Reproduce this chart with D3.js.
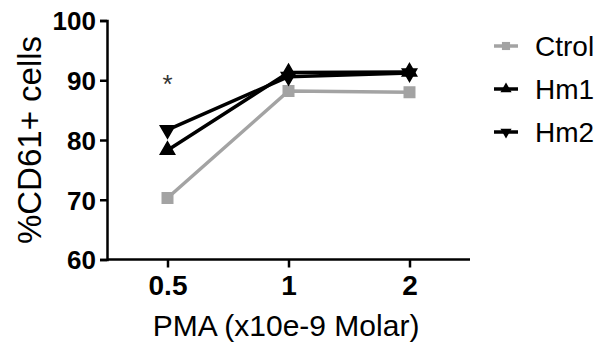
<!DOCTYPE html>
<html>
<head>
<meta charset="utf-8">
<script src="https://cdn.jsdelivr.net/npm/d3@7"></script>
<style>
  body { margin: 0; background: #fff; }
  svg { display: block; font-family: "Liberation Sans", Arial, sans-serif; }
</style>
</head>
<body>
<svg id="chart" width="603" height="349"></svg>
<script>
// values
var doses = ["0.5", "1", "2"];
var ctrol = [70.3, 88.2, 88.0];
var hm1 = [78.3, 91.3, 91.4];
var hm2 = [81.7, 90.6, 91.2];
var yTicks = [60, 70, 80, 90, 100];
var seriesNames = ["Ctrol", "Hm1", "Hm2"];
var starAt = "0.5";

var svg = d3.select("#chart");

var x = d3.scalePoint().domain(doses).range([107, 470]).padding(0.5);
var y = d3.scaleLinear().domain([60, 100]).range([259.5, 20.5]);

var series = [
  { name: seriesNames[0], values: ctrol, color: "#a3a3a3", sym: d3.symbolSquare, size: 110, rot: 0 },
  { name: seriesNames[1], values: hm1, color: "#000", sym: d3.symbolTriangle, size: 90, rot: 0 },
  { name: seriesNames[2], values: hm2, color: "#000", sym: d3.symbolTriangle, size: 90, rot: 180 }
];

// axes
var xAxis = svg.append("g")
    .attr("transform", "translate(0," + y(60) + ")")
    .call(d3.axisBottom(x).tickSizeOuter(0).tickSize(8).tickPadding(8));
xAxis.select(".domain").attr("d", "M107,0H470");

var yAxis = svg.append("g")
    .attr("transform", "translate(107,0)")
    .call(d3.axisLeft(y).tickValues(yTicks).tickSizeOuter(0).tickSize(7).tickPadding(4));

svg.selectAll(".domain, .tick line").attr("stroke", "#000").attr("stroke-width", 2.5);
xAxis.selectAll(".tick text").attr("font-size", 28).attr("font-weight", "bold").attr("fill", "#000")
    .attr("font-family", "Liberation Sans, Arial, sans-serif");
yAxis.selectAll(".tick text").attr("font-size", 26).attr("font-weight", "bold").attr("fill", "#000")
    .attr("dy", "0.36em")
    .attr("font-family", "Liberation Sans, Arial, sans-serif");

// axis titles
svg.append("text")
    .attr("x", 286).attr("y", 336)
    .attr("text-anchor", "middle")
    .attr("font-size", 30)
    .text("PMA (x10e-9 Molar)");

svg.append("text")
    .attr("transform", "translate(41,140) rotate(-90)")
    .attr("text-anchor", "middle")
    .attr("font-size", 33)
    .text("%CD61+ cells");

// lines and markers
var line = d3.line()
    .x(function(d, i) { return x(doses[i]); })
    .y(function(d) { return y(d); });

var g = svg.append("g").selectAll("g")
    .data(series)
    .enter().append("g");

g.append("path")
    .attr("d", function(d) { return line(d.values); })
    .attr("fill", "none")
    .attr("stroke", function(d) { return d.color; })
    .attr("stroke-width", 3.5);

g.selectAll("path.pt")
    .data(function(d) { return d.values.map(function(v, i) { return { v: v, i: i, s: d }; }); })
    .enter().append("path")
    .attr("class", "pt")
    .attr("d", function(d) { return d3.symbol().type(d.s.sym).size(d.s.size)(); })
    .attr("transform", function(d) {
      return "translate(" + x(doses[d.i]) + "," + y(d.v) + ") rotate(" + d.s.rot + ")";
    })
    .attr("fill", function(d) { return d.s.color; })
    .attr("stroke", function(d) { return d.s.color; })
    .attr("stroke-width", 1.5);

// significance star
svg.append("text")
    .attr("x", x(starAt)).attr("y", 93)
    .attr("text-anchor", "middle")
    .attr("font-size", 26)
    .attr("fill", "#333")
    .text("*");

// legend
var ly = d3.scalePoint().domain(seriesNames).range([46, 132]);
var leg = svg.append("g").selectAll("g")
    .data(series)
    .enter().append("g")
    .attr("transform", function(d) { return "translate(0," + ly(d.name) + ")"; });

leg.append("line")
    .attr("x1", 494).attr("x2", 518)
    .attr("stroke", function(d) { return d.color; })
    .attr("stroke-width", 3.5);
leg.append("path")
    .attr("d", function(d) { return d3.symbol().type(d.sym).size(d.size * 0.6)(); })
    .attr("transform", function(d) { return "translate(506,0) rotate(" + d.rot + ")"; })
    .attr("fill", function(d) { return d.color; });
leg.append("text")
    .attr("x", 535).attr("y", 10)
    .attr("font-size", 28)
    .text(function(d) { return d.name; });
</script>
</body>
</html>
